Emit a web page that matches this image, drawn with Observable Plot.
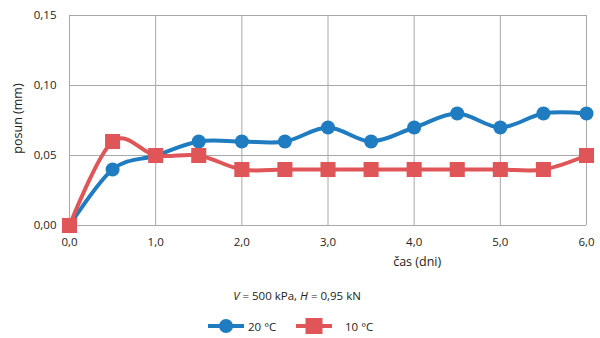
<!DOCTYPE html>
<html><head><meta charset="utf-8">
<script src="https://cdn.jsdelivr.net/npm/d3@7"></script>
<script src="https://cdn.jsdelivr.net/npm/@observablehq/plot@0.6"></script>
<style>
body{margin:0;background:#fff;font-family:"Open Sans",sans-serif;color:#222;}
#wrap{width:600px;height:338px;position:relative;overflow:hidden}
#sub{position:absolute;top:288px;left:-3px;width:600px;text-align:center;font-size:11.5px}
#leg{position:absolute;top:318px;left:0;width:600px;height:18px;font-size:11.5px}
.item{position:absolute;top:0;display:flex;align-items:center;height:16px}
</style></head>
<body><div id="wrap"><div id="chart"></div><div id="sub"></div><div id="leg"></div></div>
<script>
const days = [0,0.5,1,1.5,2,2.5,3,3.5,4,4.5,5,5.5,6];
const s20 = [0,0.04,0.05,0.06,0.06,0.06,0.07,0.06,0.07,0.08,0.07,0.08,0.08];
const s10 = [0,0.06,0.05,0.05,0.04,0.04,0.04,0.04,0.04,0.04,0.04,0.04,0.05];
const xTicks = [0,1,2,3,4,5,6];
const yTicks = [0,0.05,0.10,0.15];
const seriesNames = ["20 °C","10 °C"];
const colors = ["#1f7cc0","#e05557"];

const d20 = days.map((d,i)=>({x:d,y:s20[i]}));
const d10 = days.map((d,i)=>({x:d,y:s10[i]}));
const fmt1 = d=>d.toFixed(1).replace(".",",");
const fmt2 = d=>d.toFixed(2).replace(".",",");

const chart = Plot.plot({
  width:600, height:280,
  marginLeft:69, marginRight:14, marginTop:15, marginBottom:55,
  style:{fontFamily:"Open Sans, sans-serif", fontSize:"11.5px", color:"#222"},
  x:{domain:[0,6], label:null},
  y:{domain:[0,0.15], label:null},
  marks:[
    Plot.gridX(xTicks,{stroke:"#a8a8a8", strokeOpacity:1}),
    Plot.gridY(yTicks,{stroke:"#a8a8a8", strokeOpacity:1}),
    Plot.axisX({ticks:xTicks, tickFormat:fmt1, tickSize:0, tickPadding:12, label:null}),
    Plot.axisY({ticks:yTicks, tickFormat:fmt2, tickSize:0, tickPadding:13, label:null}),
    Plot.line(d20,{x:"x",y:"y",stroke:colors[0],strokeWidth:4,curve:"cardinal"}),
    Plot.line(d10,{x:"x",y:"y",stroke:colors[1],strokeWidth:4,curve:"cardinal"}),
    Plot.dot(d20,{x:"x",y:"y",fill:colors[0],r:7}),
    Plot.dot(d10,{x:"x",y:"y",fill:colors[1],symbol:"square",r:8.5}),
    Plot.text(["čas (dni)"],{frameAnchor:"bottom", x:[4], dx:3, dy:40, fontSize:12.5}),
    Plot.text(["posun (mm)"],{frameAnchor:"left", y:[0.0764], textAnchor:"middle", dx:-52, rotate:-90, fontSize:12.5})
  ]
});
document.getElementById("chart").appendChild(chart);
document.getElementById("sub").innerHTML = "<i>V</i> = 500 kPa, <i>H</i> = 0,95 kN";

const leg = document.getElementById("leg");
const legX = [208, 296];
const legTextX = [248, 345];
seriesNames.forEach((n,i)=>{
  const it = document.createElement("div");
  it.className="item"; it.style.left=legX[i]+"px";
  const mk = i===0 ? `<circle cx="18" cy="8" r="7" fill="${colors[0]}"/>` : `<rect x="9.5" y="-0.5" width="17" height="17" fill="${colors[1]}"/>`;
  it.innerHTML = `<svg width="36" height="16"><line x1="0" x2="36" y1="8" y2="8" stroke="${colors[i]}" stroke-width="4"/>${mk}</svg>`;
  leg.appendChild(it);
  const t = document.createElement("div");
  t.className="item"; t.style.left=legTextX[i]+"px"; t.textContent=n;
  leg.appendChild(t);
});
</script></body></html>
